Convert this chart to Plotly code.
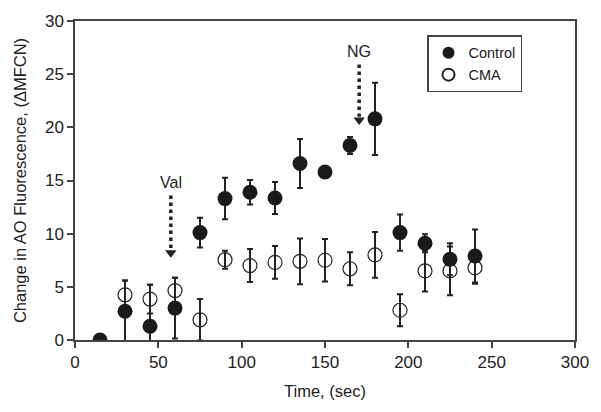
import plotly.graph_objects as go

# --- Data ---
time_control = [15, 30, 45, 60, 75, 90, 105, 120, 135, 150, 165, 180, 195, 210, 225, 240]
control = [0.0, 2.7, 1.3, 3.0, 10.1, 13.3, 13.9, 13.35, 16.6, 15.8, 18.3, 20.8, 10.1, 9.1, 7.6, 7.9]
control_err = [0.0, 2.9, 3.9, 2.85, 1.4, 1.95, 1.15, 1.5, 2.3, 0.0, 0.8, 3.4, 1.7, 0.85, 1.5, 2.5]

time_cma = [30, 45, 60, 75, 90, 105, 120, 135, 150, 165, 180, 195, 210, 225, 240]
cma = [4.25, 3.85, 4.65, 1.9, 7.55, 7.0, 7.3, 7.4, 7.5, 6.7, 8.0, 2.8, 6.5, 6.5, 6.8]
cma_err = [1.35, 1.35, 1.2, 1.95, 0.85, 1.55, 1.55, 2.15, 2.0, 1.55, 2.15, 1.5, 1.95, 2.3, 1.5]

# treatment arrows
arrow_labels = ["Val", "NG"]
arrow_x = [57.5, 170.5]
arrow_top = [13.6, 25.9]
arrow_tip = [8.2, 20.7]

INK = "#222222"
FONT = "Arial, Liberation Sans, sans-serif"

fig = go.Figure()

fig.add_trace(
    go.Scatter(
        x=time_cma,
        y=cma,
        mode="markers",
        name="CMA",
        marker=dict(symbol="circle-open", size=14, color=INK, line=dict(width=1.2)),
        error_y=dict(type="data", array=cma_err, color=INK, thickness=2, width=3),
    )
)

fig.add_trace(
    go.Scatter(
        x=time_control,
        y=control,
        mode="markers",
        name="Control",
        marker=dict(symbol="circle", size=15, color="#1a1a1a"),
        error_y=dict(type="data", array=control_err, color=INK, thickness=2, width=3),
    )
)

# --- Dotted arrows with labels ---
for label, x, top, tip in zip(arrow_labels, arrow_x, arrow_top, arrow_tip):
    fig.add_shape(
        type="line", x0=x, x1=x, y0=top, y1=tip + 0.3,
        line=dict(color=INK, width=3.5, dash="dot"),
    )
    fig.add_annotation(
        x=x, y=top, yshift=13, text=label, showarrow=False,
        font=dict(size=16, color=INK, family=FONT),
    )

# arrow heads
fig.add_trace(
    go.Scatter(
        x=arrow_x,
        y=arrow_tip,
        mode="markers",
        showlegend=False,
        hoverinfo="skip",
        marker=dict(symbol="triangle-down", size=10, color=INK),
    )
)

axis_style = dict(
    showline=True, linecolor="#444444", linewidth=1.5, mirror=True,
    ticks="outside", ticklen=6, tickwidth=1.5, tickcolor="#444444",
    showgrid=False, zeroline=False,
    tickfont=dict(size=17, color=INK, family=FONT),
)

fig.update_layout(
    width=601,
    height=412,
    paper_bgcolor="white",
    plot_bgcolor="white",
    margin=dict(l=75, r=22, t=19, b=72),
    font=dict(family=FONT, color=INK),
    xaxis=dict(
        range=[0, 300], dtick=50,
        title=dict(text="Time, (sec)", font=dict(size=16.5, color=INK), standoff=14),
        **axis_style,
    ),
    yaxis=dict(
        range=[0, 30], dtick=5,
        title=dict(text="Change in AO Fluorescence, (ΔMFCN)", font=dict(size=16.5, color=INK), standoff=14),
        **axis_style,
    ),
    legend=dict(
        x=0.704, y=0.955, xanchor="left", yanchor="top",
        bordercolor="#444444", borderwidth=1.5, bgcolor="white",
        font=dict(size=14.5, color=INK, family=FONT),
        traceorder="reversed", itemsizing="constant", itemwidth=30,
        tracegroupgap=0,
    ),
    showlegend=True,
)

# drop the default page margin so the figure sits at the window origin
fig.write_html(
    "out.html",
    config={"displayModeBar": False},
    post_script="document.body.style.margin='0';",
)
